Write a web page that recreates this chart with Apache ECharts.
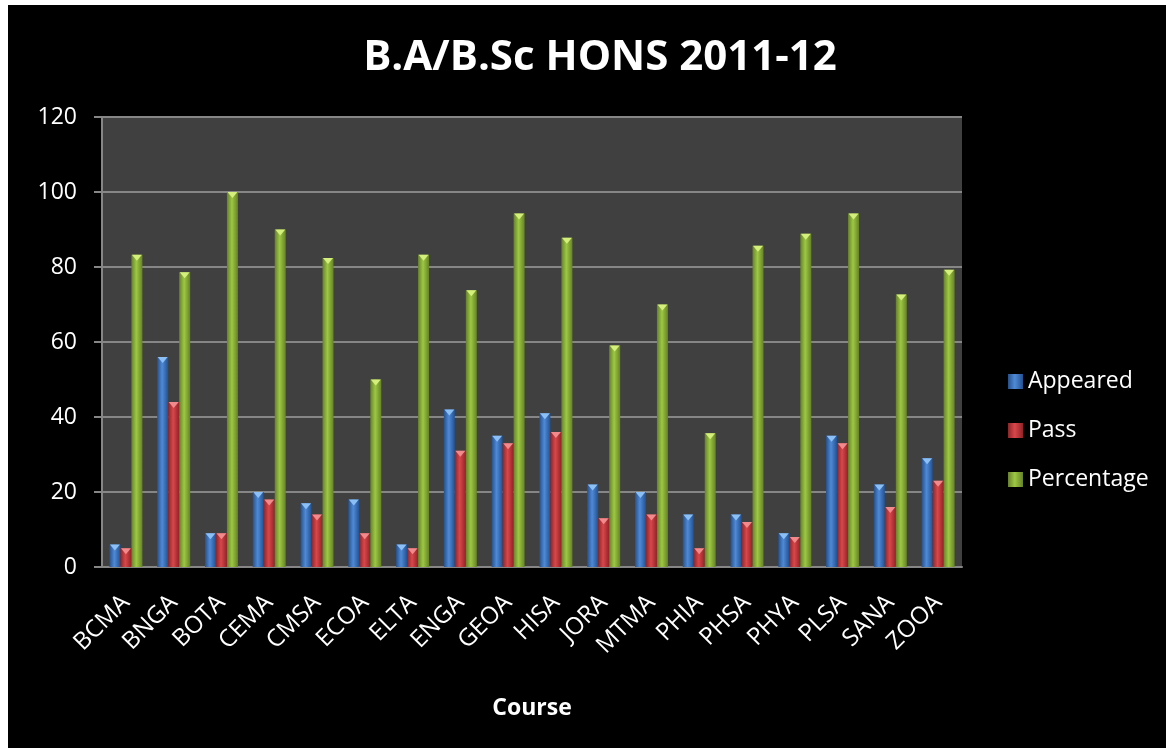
<!DOCTYPE html>
<html>
<head>
<meta charset="utf-8">
<script src="https://cdn.jsdelivr.net/npm/echarts@6/dist/echarts.min.js"></script>
<style>
  body { margin: 0; background: #fff; }
  #main { position: absolute; left: 8px; top: 5px; width: 1158px; height: 743px; background: #000; }
</style>
</head>
<body>
<div id="main"></div>
<script>
// 课程数据
var courses = ['BCMA', 'BNGA', 'BOTA', 'CEMA', 'CMSA', 'ECOA', 'ELTA', 'ENGA', 'GEOA',
    'HISA', 'JORA', 'MTMA', 'PHIA', 'PHSA', 'PHYA', 'PLSA', 'SANA', 'ZOOA'];
var appeared = [6, 56, 9, 20, 17, 18, 6, 42, 35, 41, 22, 20, 14, 14, 9, 35, 22, 29];
var pass = [5, 44, 9, 18, 14, 9, 5, 31, 33, 36, 13, 14, 5, 12, 8, 33, 16, 23];
var percentage = [83.3, 78.6, 100, 90, 82.4, 50, 83.3, 73.8, 94.3, 87.8, 59.1, 70, 35.7, 85.7, 88.9, 94.3, 72.7, 79.3];
var yTicks = [0, 20, 40, 60, 80, 100, 120];

var font = '"Open Sans", "Noto Sans", sans-serif';

function grad(dark, light) {
    return new echarts.graphic.LinearGradient(0, 0, 1, 0, [
        { offset: 0, color: dark },
        { offset: 0.45, color: light },
        { offset: 1, color: dark }
    ]);
}

function barSeries(name, data, dark, light) {
    return {
        name: name,
        type: 'bar',
        data: data,
        barWidth: 11,
        barGap: '0%',
        itemStyle: { color: grad(dark, light) }
    };
}

// 柱顶的小三角
function capSeries(name, data, cap) {
    return {
        name: name + ' cap',
        type: 'pictorialBar',
        data: data,
        barWidth: 11,
        barGap: '0%',
        symbol: 'triangle',
        symbolRotate: 180,
        symbolSize: [10, 6],
        symbolPosition: 'end',
        z: 3,
        itemStyle: { color: cap },
        tooltip: { show: false }
    };
}

var myChart = echarts.init(document.getElementById('main'));
var option = {
    animation: false,
    backgroundColor: '#000',
    title: {
        text: 'B.A/B.Sc HONS 2011-12',
        left: 587,
        top: 27,
        textAlign: 'center',
        textStyle: { color: '#fff', fontSize: 42, fontWeight: 'bold', fontFamily: font }
    },
    legend: {
        orient: 'vertical',
        left: 995,
        top: 360,
        itemWidth: 15,
        itemHeight: 15,
        itemGap: 26,
        icon: 'rect',
        textStyle: { color: '#fff', fontSize: 23, fontFamily: font, lineHeight: 22 },
        data: ['Appeared', 'Pass', 'Percentage']
    },
    grid: {
        left: 94,
        right: 204,
        top: 112,
        bottom: 181,
        show: true,
        backgroundColor: '#404040',
        borderWidth: 0
    },
    xAxis: {
        type: 'category',
        data: courses,
        name: 'Course',
        nameLocation: 'middle',
        nameGap: 130,
        nameTextStyle: { color: '#fff', fontSize: 23, fontWeight: 'bold', fontFamily: font },
        axisLine: { lineStyle: { color: '#868686', width: 2 } },
        axisTick: { show: false },
        axisLabel: { color: '#fff', fontSize: 24, fontFamily: font, rotate: 45, margin: 32 }
    },
    yAxis: {
        type: 'value',
        min: yTicks[0],
        max: yTicks[yTicks.length - 1],
        interval: 20,
        axisLine: { show: true, lineStyle: { color: '#868686', width: 2 } },
        axisTick: { show: true, length: 8, lineStyle: { color: '#868686', width: 2 } },
        axisLabel: { color: '#fff', fontSize: 23, fontFamily: font, margin: 25 },
        splitLine: { lineStyle: { color: '#868686', width: 2 } }
    },
    series: [
        barSeries('Appeared', appeared, '#24518f', '#4f8ad6'),
        barSeries('Pass', pass, '#8f2427', '#d8474a'),
        barSeries('Percentage', percentage, '#66822a', '#9dc842'),
        capSeries('Appeared', appeared, '#8cc0f5'),
        capSeries('Pass', pass, '#f08a8c'),
        capSeries('Percentage', percentage, '#d4ef7c')
    ]
};
myChart.setOption(option);
</script>
</body>
</html>
